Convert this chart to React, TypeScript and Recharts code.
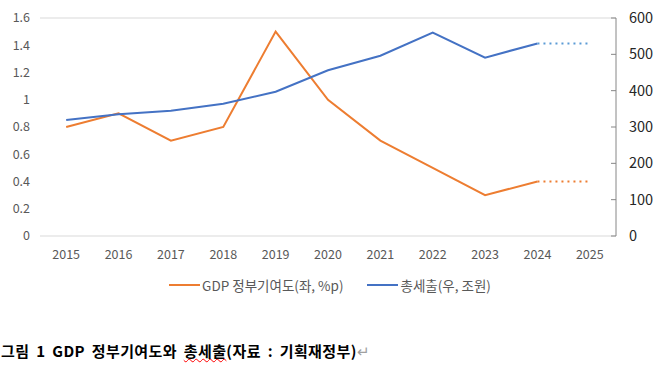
import { ComposedChart, Line, XAxis, YAxis, CartesianGrid } from 'recharts';

const years = ['2015', '2016', '2017', '2018', '2019', '2020', '2021', '2022', '2023', '2024', '2025'];
// GDP 정부기여도 (좌, %p)
const gdpContribution = [0.8, 0.9, 0.7, 0.8, 1.5, 1.0, 0.7, 0.5, 0.3, 0.4, null];
const gdpProjection = [null, null, null, null, null, null, null, null, null, 0.4, 0.4];
// 총세출 (우, 조원)
const totalSpending = [319, 335, 345, 364, 397, 456, 496, 560, 491, 530, null];
const spendingProjection = [null, null, null, null, null, null, null, null, null, 530, 530];

const leftTicks = [0, 0.2, 0.4, 0.6, 0.8, 1, 1.2, 1.4, 1.6];
const rightTicks = [0, 100, 200, 300, 400, 500, 600];

const ORANGE = '#ED7D31';
const BLUE = '#4472C4';
const LIGHT_BLUE = '#5B9BD5';
const FONT = '"Noto Sans CJK KR", "Noto Sans", sans-serif';

const data = years.map((year, i) => ({
  year,
  gdp: gdpContribution[i],
  gdpProj: gdpProjection[i],
  spending: totalSpending[i],
  spendingProj: spendingProjection[i]
}));

function RightTick(props: any) {
  const { x, y, payload } = props;
  const axisX = x - 10;
  return (
    <g>
      <line x1={axisX - 5} x2={axisX} y1={y} y2={y} stroke="#868686" />
      <text x={x + 3} y={y} dy={5} fontSize={14.5} fill="#262626" fontFamily={FONT} textAnchor="start">
        {payload.value}
      </text>
    </g>
  );
}

export default function App() {
  return (
    <div style={{ width: 660, height: 370, position: 'relative', background: '#fff', fontFamily: FONT }}>
      <style>{'body{margin:0}'}</style>
      <ComposedChart width={660} height={266} data={data} margin={{ top: 18, right: 0, bottom: 0, left: 0 }}>
        <CartesianGrid vertical={false} stroke="#d9d9d9" />
        <XAxis
          dataKey="year"
          scale="band"
          axisLine={false}
          tickLine={false}
          height={30}
          tickMargin={8}
          tick={{ fill: '#595959', fontSize: 12.5, fontFamily: FONT }}
        />
        <YAxis
          yAxisId="left"
          domain={[0, 1.6]}
          ticks={leftTicks}
          width={40}
          axisLine={false}
          tickLine={false}
          tickMargin={4}
          tick={{ fill: '#595959', fontSize: 12.5, fontFamily: FONT }}
        />
        <YAxis
          yAxisId="right"
          orientation="right"
          domain={[0, 600]}
          ticks={rightTicks}
          width={44}
          axisLine={{ stroke: '#868686' }}
          tickLine={false}
          tickSize={6}
          tickMargin={4}
          tick={<RightTick />}
        />
        <Line yAxisId="left" dataKey="gdp" stroke={ORANGE} strokeWidth={2} dot={false} isAnimationActive={false} />
        <Line
          yAxisId="left"
          dataKey="gdpProj"
          stroke={ORANGE}
          strokeWidth={2}
          strokeDasharray="2 4"
          dot={false}
          isAnimationActive={false}
        />
        <Line yAxisId="right" dataKey="spending" stroke={BLUE} strokeWidth={2} dot={false} isAnimationActive={false} />
        <Line
          yAxisId="right"
          dataKey="spendingProj"
          stroke={LIGHT_BLUE}
          strokeWidth={2}
          strokeDasharray="2 4"
          dot={false}
          isAnimationActive={false}
        />
      </ComposedChart>
      <div
        style={{
          position: 'absolute',
          top: 275,
          left: 0,
          width: 660,
          display: 'flex',
          justifyContent: 'center',
          gap: 24,
          fontSize: 13.5,
          color: '#595959'
        }}
      >
        <span style={{ display: 'flex', alignItems: 'center' }}>
          <span style={{ display: 'inline-block', width: 31, height: 2, background: ORANGE, marginRight: 2 }} />
          GDP 정부기여도(좌, %p)
        </span>
        <span style={{ display: 'flex', alignItems: 'center' }}>
          <span style={{ display: 'inline-block', width: 31, height: 2, background: BLUE, marginRight: 2 }} />
          총세출(우, 조원)
        </span>
      </div>
      <div
        style={{
          position: 'absolute',
          top: 340,
          left: 1,
          fontSize: 15,
          fontWeight: 'bold',
          letterSpacing: 0.4,
          wordSpacing: 3,
          color: '#000',
          whiteSpace: 'nowrap'
        }}
      >
        그림 1 GDP 정부기여도와{' '}
        <span style={{ textDecoration: 'underline wavy red', textDecorationThickness: 1 }}>총세출</span>
        (자료 : 기획재정부)
        <span style={{ color: '#a0a0a0', fontWeight: 'normal' }}>↵</span>
      </div>
    </div>
  );
}
